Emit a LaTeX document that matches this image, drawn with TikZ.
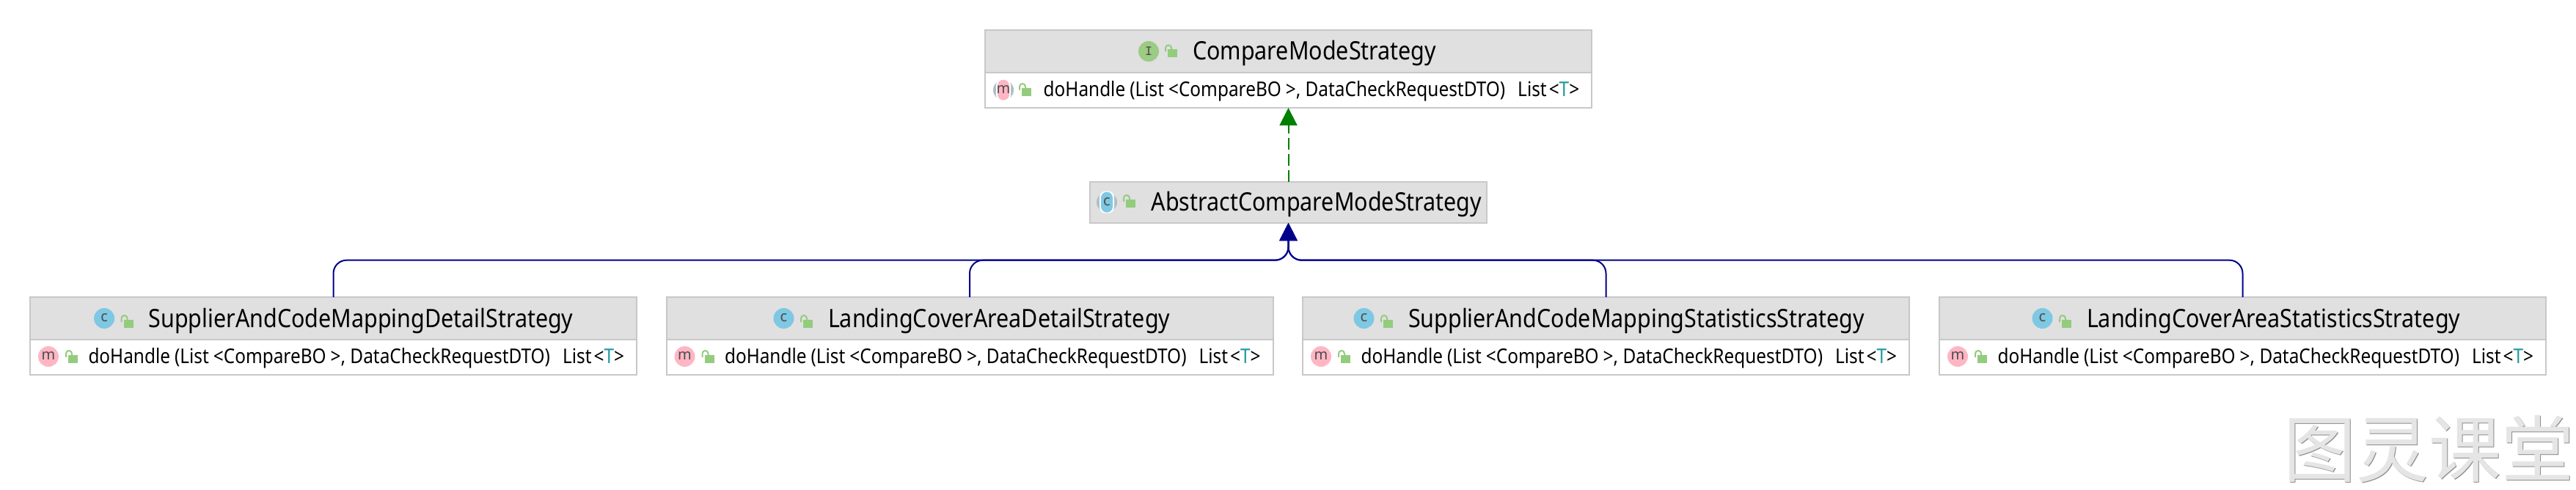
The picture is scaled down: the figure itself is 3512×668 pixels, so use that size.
\documentclass[tikz,border=0pt]{standalone}
\usepackage{fontspec}
\setmainfont{Noto Sans}
\newfontfamily\uifont[FakeStretch=0.88]{Noto Sans}
\newfontfamily\cjkwm{Noto Sans CJK SC}
\usetikzlibrary{arrows.meta,calc}
\definecolor{hdr}{HTML}{E0E0E0}
\definecolor{edge}{HTML}{C8C8C8}
\definecolor{navyl}{HTML}{00008B}
\definecolor{greenl}{HTML}{008000}
\definecolor{lockg}{HTML}{94CC7E}
\definecolor{icong}{HTML}{9CCB84}
\definecolor{iconb}{HTML}{7EC8E3}
\definecolor{iconp}{HTML}{FFB6C4}
\definecolor{icongrey}{HTML}{B0BEC5}
\definecolor{tealt}{HTML}{1E9AA0}
\tikzset{
  x=1pt,y=-1pt,
  headbox/.style={draw=edge,fill=hdr,line width=2pt,anchor=north west,inner sep=0,outer sep=0,minimum width=827pt},
  bodybox/.style={draw=edge,fill=white,line width=2pt,anchor=north west,inner sep=0,outer sep=0,minimum width=827pt},
  titletext/.style={anchor=base west,inner sep=0,outer sep=0,font=\uifont\fontsize{34.6}{40}\selectfont,text=black},
  methodtext/.style={anchor=base west,inner sep=0,outer sep=0,font=\uifont\fontsize{27.7}{30}\selectfont,text=black},
  iconletter/.style={inner sep=0,outer sep=0,text=black!70,font=\fontsize{20}{24}\selectfont},
  inherit/.style={draw=navyl,line width=2pt,rounded corners=18pt,-{Triangle[length=24pt,width=24pt]}},
  implement/.style={draw=greenl,line width=2pt,dash pattern=on 16pt off 6pt,-{Triangle[length=24pt,width=24pt]}},
}
% open padlock: #1 = left of body, #2 = top of body
\newcommand{\lockicon}[2]{%
  \fill[lockg] ({#1},{#2}) rectangle ({#1+13},{#2+11});
  \draw[lockg,line width=2pt,rounded corners=4pt] ({#1-3},{#2+3}) -- ({#1-3},{#2-6}) -- ({#1+5},{#2-6}) -- ({#1+5},{#2});
}
% full circular icon
\newcommand{\roundicon}[4]{\fill[#3] (#1,#2) circle[radius=14]; \node[iconletter] at (#1,#2-1) {#4};}
% banded icon (grey arcs either side of a coloured band)
\newcommand{\bandicon}[4]{%
  \fill[icongrey] (#1,#2) circle[radius=14];
  \fill[white,rounded corners=8pt] ({#1-10},{#2-15}) rectangle ({#1+10},{#2+15});
  \fill[#3,rounded corners=8pt] ({#1-8},{#2-14}) rectangle ({#1+8},{#2+14});
  \node[iconletter] at (#1,#2-1) {#4};}
\newcommand{\sig}{doHandle\hspace{6pt}(List\hspace{6pt}<CompareBO\hspace{6pt}>, DataCheckRequestDTO)\hspace{17pt}List\hspace{3pt}<\textcolor{tealt}{T}>}
% #1 name, #2 left, #3 title, #4 title start x
\newcommand{\strategybox}[4]{%
  \node[headbox,minimum height=58pt] (#1h) at (#2,405) {};
  \node[bodybox,minimum height=48pt] (#1b) at (#2,463) {};
  \roundicon{#4-60.5}{434}{iconb}{c}
  \lockicon{#4-34}{436}
  \node[titletext] (#1t) at (#4,446) {#3};
  \roundicon{#2+25}{486}{iconp}{m}
  \lockicon{#2+52}{484}
  \node[methodtext] (#1m) at ({#2+79.5},495.7) {\sig};
}
\begin{document}
\begin{tikzpicture}
\useasboundingbox (0,0) rectangle (3512,668);
\fill[white] (0,0) rectangle (3512,668);
% interface
\node[headbox,minimum height=58pt,minimum width=827pt] (ih) at (1343,41) {};
\node[bodybox,minimum height=48pt,minimum width=827pt] (ib) at (1343,99) {};
\fill[icong] (1566,70) circle[radius=14];
\node[iconletter,font=\ttfamily\bfseries\fontsize{19}{22}\selectfont] at (1566,70) {I};
\lockicon{1592}{67.5}
\node[titletext] (it) at (1626,81.7) {CompareModeStrategy};
\bandicon{1368}{122.7}{iconp}{m}
\lockicon{1393}{120}
\node[methodtext] (im) at (1422.7,131.7) {\sig};
% abstract class
\node[headbox,minimum height=56pt,minimum width=541pt] (ah) at (1486,248) {};
\bandicon{1509}{275.7}{iconb}{c}
\lockicon{1535}{272}
\node[titletext] (at) at (1569.6,287.7) {AbstractCompareModeStrategy};
% concrete classes
\strategybox{s}{41}{SupplierAndCodeMappingDetailStrategy}{202.6}
\strategybox{l}{908.5}{LandingCoverAreaDetailStrategy}{1129}
\strategybox{m}{1776}{SupplierAndCodeMappingStatisticsStrategy}{1920}
\strategybox{n}{2644}{LandingCoverAreaStatisticsStrategy}{2845}
% connectors
\coordinate (bus) at (ah.south |- 0,354.7);
\draw[implement] (ah.north) -- (ib.south);
\draw[inherit] (sh.north) |- (bus) -- (ah.south);
\draw[inherit] (lh.north) |- (bus) -- (ah.south);
\draw[inherit] (mh.north) |- (bus) -- (ah.south);
\draw[inherit] (nh.north) |- (bus) -- (ah.south);
% watermark
\node[anchor=base west,inner sep=0,text=black!45,font=\cjkwm\fontsize{99}{100}\selectfont] (wms) at (3114,650) {图灵课堂};
\node[anchor=base west,inner sep=0,text=hdr!85!white,font=\cjkwm\fontsize{99}{100}\selectfont] (wm) at (3113,649) {图灵课堂};
\end{tikzpicture}
\end{document}
